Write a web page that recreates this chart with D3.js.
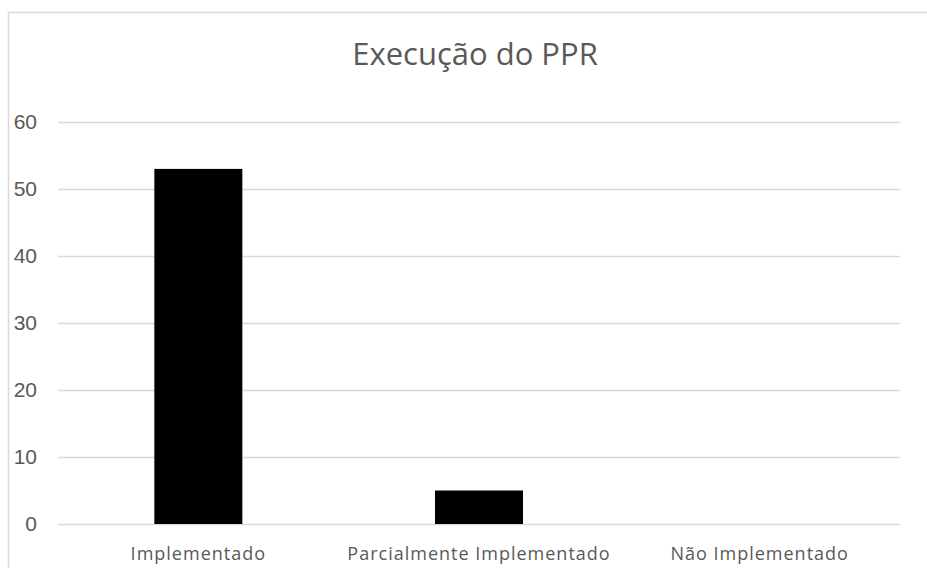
<!DOCTYPE html>
<html><head><meta charset="utf-8">
<script src="https://cdn.jsdelivr.net/npm/d3@7"></script>
<style>body{margin:0;background:#fff}svg{display:block}</style>
</head><body>
<svg id="c" width="927" height="568"></svg>
<script>
const categories = ["Implementado", "Parcialmente Implementado", "Não Implementado"];
const values = [53, 5, 0];
const yTicks = [0, 10, 20, 30, 40, 50, 60];
const title = "Execução do PPR";

const svg = d3.select("#c");
const W = 927, H = 568;
const m = {left: 58, right: 27, top: 122, bottom: 44};

svg.append("rect").attr("x", 8.5).attr("y", 12.5).attr("width", 940).attr("height", 600)
  .attr("fill", "#fff").attr("stroke", "#d9d9d9").attr("stroke-width", 1.5);

const x = d3.scaleBand().domain(categories).range([m.left, W - m.right])
  .paddingInner(0.6865).paddingOuter(0.34325);
const y = d3.scaleLinear().domain([0, 60]).range([524, 122]);

const yAxis = svg.append("g").attr("transform", `translate(${m.left},0)`)
  .call(d3.axisLeft(y).tickValues(yTicks).tickSize(-(W - m.right - m.left)).tickFormat(d3.format("d")));
yAxis.select(".domain").remove();
yAxis.selectAll("line").attr("stroke", "#d9d9d9").attr("stroke-width", 1.5);
yAxis.selectAll("text").attr("fill", "#595959").attr("font-family", "'Liberation Sans', Arial, sans-serif")
  .attr("font-size", 21).attr("text-anchor", "end").attr("x", -21);

svg.append("g").selectAll("rect").data(values).join("rect")
  .attr("x", (d, i) => x(categories[i]))
  .attr("width", x.bandwidth())
  .attr("y", d => y(d))
  .attr("height", d => y(0) - y(d))
  .attr("fill", "#000");

const xAxis = svg.append("g").attr("transform", `translate(0,524)`)
  .call(d3.axisBottom(x).tickSize(0).tickPadding(20));
xAxis.select(".domain").remove();
xAxis.selectAll("text").attr("fill", "#595959").attr("font-family", "'Open Sans', 'Noto Sans', sans-serif")
  .attr("font-size", 18).attr("letter-spacing", 1).attr("dy", "0.9em");

svg.append("text").attr("x", 475).attr("y", 65).attr("text-anchor", "middle")
  .attr("fill", "#595959").attr("font-family", "'Open Sans', 'Noto Sans', sans-serif")
  .attr("font-size", 31).text(title);
</script>
</body></html>
